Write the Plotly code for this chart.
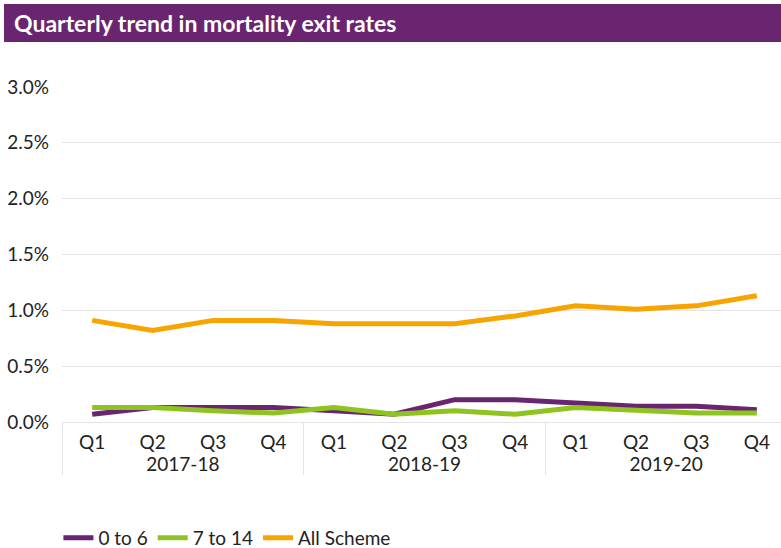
import plotly.graph_objects as go

years = ["2017-18"] * 4 + ["2018-19"] * 4 + ["2019-20"] * 4
quarters = ["Q1", "Q2", "Q3", "Q4"] * 3

age_0_6 = [0.07, 0.13, 0.13, 0.13, 0.10, 0.07, 0.20, 0.20, 0.17, 0.14, 0.14, 0.11]
age_7_14 = [0.13, 0.13, 0.10, 0.08, 0.13, 0.07, 0.10, 0.07, 0.13, 0.11, 0.08, 0.08]
all_scheme = [0.91, 0.82, 0.91, 0.91, 0.88, 0.88, 0.88, 0.95, 1.04, 1.01, 1.04, 1.13]

FONT = "Lato, sans-serif"
PURPLE = "#6a2570"

fig = go.Figure()
for name, vals, col in [("0 to 6", age_0_6, PURPLE),
                        ("7 to 14", age_7_14, "#8fc31f"),
                        ("All Scheme", all_scheme, "#f7a400")]:
    fig.add_trace(go.Scatter(x=[years, quarters], y=vals, name=name, mode="lines",
                             line=dict(color=col, width=5)))

# title bar
fig.add_shape(type="rect", xref="paper", yref="paper",
              x0=-58 / 719, x1=1.0, y0=(422 - 42) / 335, y1=(422 - 4) / 335,
              fillcolor=PURPLE, line_width=0, layer="below")
fig.add_annotation(text="<b>Quarterly trend in mortality exit rates</b>",
                   xref="paper", yref="paper", x=-50 / 719, y=(422 - 23) / 335,
                   xanchor="left", yanchor="middle", showarrow=False,
                   font=dict(family=FONT, size=23, color="white"))

fig.update_layout(
    width=781, height=548,
    margin=dict(l=62, r=0, t=87, b=126),
    paper_bgcolor="white", plot_bgcolor="white",
    font=dict(family=FONT, size=19, color="#222222"),
    showlegend=True,
    legend=dict(orientation="h", x=-0.005, xanchor="left",
                yref="container", y=10 / 548, yanchor="middle",
                font=dict(size=19), itemwidth=30, traceorder="normal"),
)
fig.update_yaxes(range=[0, 3.0], dtick=0.5, tickformat=".1f", ticksuffix="%",
                 showgrid=True, gridcolor="#e4e4e4", gridwidth=1,
                 zeroline=False, showline=False, ticks="", ticklabelstandoff=12)
fig.update_xaxes(range=[-0.5, 11.4], showgrid=False, showline=True,
                 linecolor="#e4e4e4", linewidth=1, showdividers=True,
                 dividercolor="#e4e4e4", dividerwidth=1, ticks="",
                 ticklabelstandoff=3, tickfont=dict(size=19))

fig.write_html("out.html", config={"displayModeBar": False},
               post_script="document.body.style.margin='0';")
